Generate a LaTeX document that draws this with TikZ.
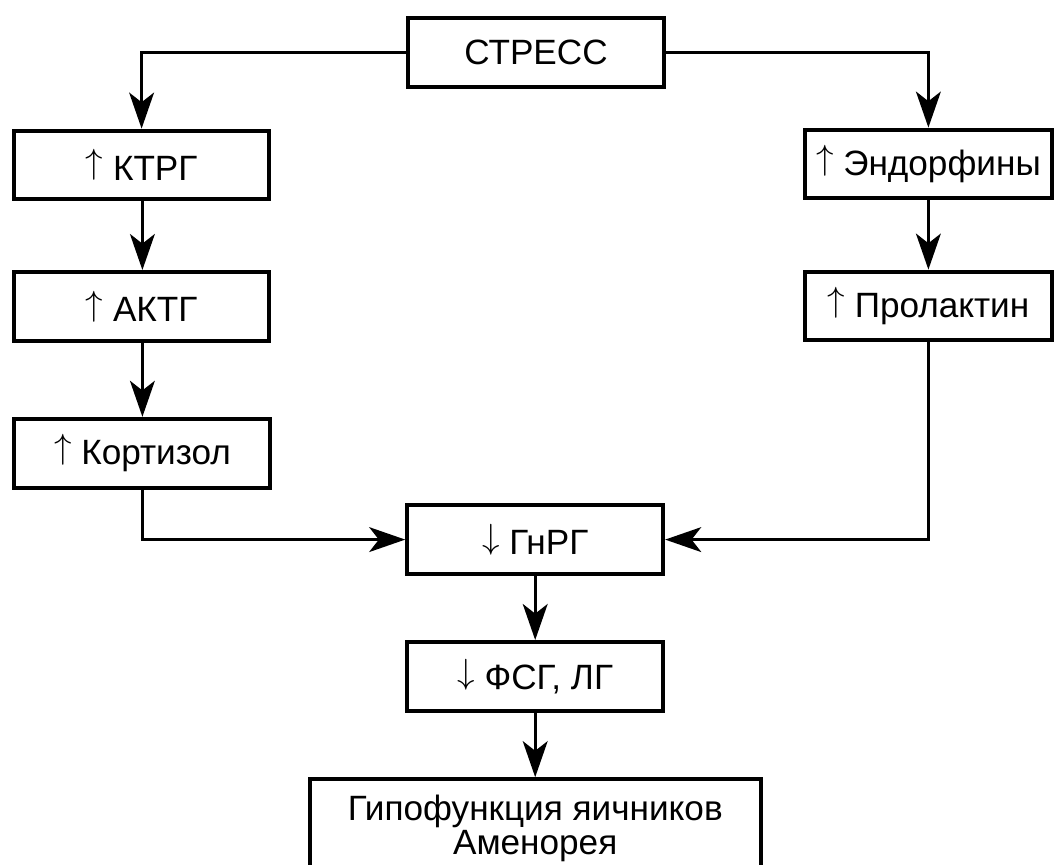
\documentclass[tikz,border=0pt]{standalone}
\usepackage{fontspec}
\setmainfont{Liberation Sans}
\usetikzlibrary{arrows.meta}
\newcommand{\ArUp}{{\fontsize{23}{24}\selectfont\raisebox{0.194em}{$\uparrow$}}}
\newcommand{\ArDn}{{\fontsize{23}{24}\selectfont\raisebox{0.194em}{$\downarrow$}}}

\begin{document}
\begin{tikzpicture}[
  blk/.style={draw, line width=2.8pt, inner sep=0pt, minimum height=1.72cm,
    font=\fontsize{25}{24}\selectfont},
  arr/.style={line width=2.2pt, -{Stealth[length=0.9cm, width=0.62cm, inset=0.24cm]}}
]
\newcommand{\Lcol}{3.54}; % left column
\newcommand{\Mcol}{13.38}; % middle column
\newcommand{\Rcol}{23.21}; % right column

\useasboundingbox (0, 0) rectangle (26.4, -21.625);
\clip (0, 0) rectangle (26.4, -21.625);

% top
\node[blk, minimum width=6.4cm] (Str) at (\Mcol + 0.02, -1.31) {СТРЕСС};

% left branch
\node[blk, minimum width=6.375cm] (Ktrg) at (\Lcol, -4.125) {\ArUp\ КТРГ};
\node[blk, minimum width=6.375cm] (Aktg) at (\Lcol, -7.66)  {\ArUp\ АКТГ};
\node[blk, minimum width=6.4cm]   (Kort) at (\Lcol + 0.02, -11.33) {\ArUp\ Кортизол};

% right branch
\node[blk, minimum width=6.18cm] (Endo) at (\Rcol, -4.1)  {\ArUp\ Эндорфины};
\node[blk, minimum width=6.18cm] (Prol) at (\Rcol, -7.65) {\ArUp\ Пролактин};

% middle
\node[blk, minimum width=6.4cm] (Gnrg) at (\Mcol, -13.49) {\ArDn\ ГнРГ};
\node[blk, minimum width=6.4cm] (Fsg)  at (\Mcol, -16.91) {\ArDn\ ФСГ, ЛГ};
\node[blk, minimum width=11.28cm, anchor=north, align=center, inner ysep=0.4cm]
  (Hypo) at (\Mcol, -19.43) {Гипофункция яичников\\Аменорея};

\draw[arr] (Str.west) -| (Ktrg.north);
\draw[arr] (Str.east) -| (Endo.north);
\draw[arr] (Ktrg.south -| Kort.north) -- (Aktg.north -| Kort.north);
\draw[arr] (Aktg.south -| Kort.north) -- (Kort.north);
\draw[arr] (Endo.south) -- (Prol.north);
\draw[arr] (Kort.south) |- (Gnrg.west);
\draw[arr] (Prol.south) |- (Gnrg.east);
\draw[arr] (Gnrg) -- (Fsg);
\draw[arr] (Fsg) -- (Hypo);
\end{tikzpicture}
\end{document}
